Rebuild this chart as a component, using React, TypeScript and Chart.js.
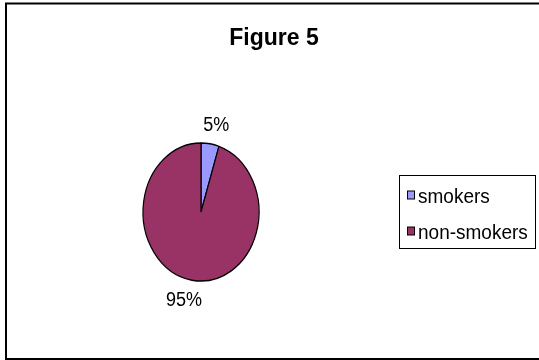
import React, { useEffect, useRef } from "react";
import { Chart, registerables, Plugin } from "chart.js";

Chart.register(...registerables);

// Chart content
const chartTitle = "Figure 5";
const groups = ["smokers", "non-smokers"];
const shares = [5, 95];
const sliceColors = ["#9999FF", "#993366"];

const FONT = "'Liberation Sans', Arial, sans-serif";
const STRETCH_Y = 1.19; // pie is drawn as an upright ellipse
const TEXT_STRETCH = 1.08; // slightly tall lettering

// Squash the pie into an ellipse around its centre
const ellipsePlugin: Plugin = {
  id: "ellipse",
  beforeDatasetsDraw(chart) {
    const arc: any = chart.getDatasetMeta(0).data[0];
    const ctx = chart.ctx;
    ctx.save();
    ctx.translate(arc.x, arc.y);
    ctx.scale(1, STRETCH_Y);
    ctx.translate(-arc.x, -arc.y);
  },
  afterDatasetsDraw(chart) {
    chart.ctx.restore();
  },
};

// Text drawn with a small vertical stretch about its baseline
function tallText(ctx: CanvasRenderingContext2D, text: string, x: number, y: number) {
  ctx.save();
  ctx.translate(x, y);
  ctx.scale(1, TEXT_STRETCH);
  ctx.fillText(text, 0, 0);
  ctx.restore();
}

// Frame, title, percentage labels and boxed legend
const decorPlugin: Plugin = {
  id: "decor",
  afterDraw(chart) {
    const ctx = chart.ctx;
    ctx.save();

    // outer frame
    ctx.strokeStyle = "#000";
    ctx.lineWidth = 2;
    ctx.strokeRect(6, 3.5, 540, 355.5);

    // title
    ctx.fillStyle = "#000";
    ctx.font = `bold 23px ${FONT}`;
    ctx.textAlign = "center";
    ctx.textBaseline = "alphabetic";
    tallText(ctx, chartTitle, 274, 45);

    // percentage labels outside each slice
    const ds = chart.data.datasets[0].data as number[];
    const total = ds.reduce((a, b) => a + b, 0);
    const meta = chart.getDatasetMeta(0);
    ctx.font = `18px ${FONT}`;
    meta.data.forEach((el: any, i: number) => {
      const text = `${Math.round((ds[i] / total) * 100)}%`;
      const mid = (el.startAngle + el.endAngle) / 2;
      const dx = Math.cos(mid);
      const dy = Math.sin(mid);
      const w = ctx.measureText(text).width;
      const h = 13;
      const k = 1.19;
      const cx = el.x + dx * el.outerRadius * k + dx * w * 1.1;
      const cy = el.y + dy * el.outerRadius * STRETCH_Y * k + (dy * h) / 2;
      tallText(ctx, text, cx, cy + h / 2);
    });

    // legend
    const lx = 399.5, ly = 175.5, lw = 136, lh = 73;
    ctx.lineWidth = 1;
    ctx.fillStyle = "#fff";
    ctx.fillRect(lx, ly, lw, lh);
    ctx.strokeRect(lx, ly, lw, lh);
    ctx.font = `19px ${FONT}`;
    ctx.textAlign = "left";
    const labels = chart.data.labels as string[];
    labels.forEach((lab, i) => {
      const rowY = 195 + i * 36;
      ctx.fillStyle = sliceColors[i];
      ctx.fillRect(407.5, rowY - 4, 7, 8);
      ctx.strokeStyle = "#000";
      ctx.strokeRect(407.5, rowY - 4, 7, 8);
      ctx.fillStyle = "#000";
      tallText(ctx, lab, 418, rowY + 8);
    });

    ctx.restore();
  },
};

export default function App() {
  const canvasRef = useRef<HTMLCanvasElement>(null);

  useEffect(() => {
    if (!canvasRef.current) return;
    const chart = new Chart(canvasRef.current, {
      type: "pie",
      data: {
        labels: groups,
        datasets: [
          {
            data: shares,
            backgroundColor: sliceColors,
            borderColor: "#000",
            borderWidth: 1.2,
            hoverOffset: 0,
            clip: false as any,
          },
        ],
      },
      options: {
        responsive: true,
        maintainAspectRatio: false,
        animation: false,
        events: [],
        radius: 58,
        layout: { padding: { left: 5, right: 142, top: 94, bottom: 30 } },
        plugins: {
          legend: { display: false },
          title: { display: false },
          tooltip: { enabled: false },
        },
      } as any,
      plugins: [ellipsePlugin, decorPlugin],
    });
    return () => chart.destroy();
  }, []);

  return (
    <div
      style={{
        position: "fixed",
        left: 0,
        top: 0,
        width: 539,
        height: 360,
        background: "#fff",
      }}
    >
      <canvas ref={canvasRef} />
    </div>
  );
}
